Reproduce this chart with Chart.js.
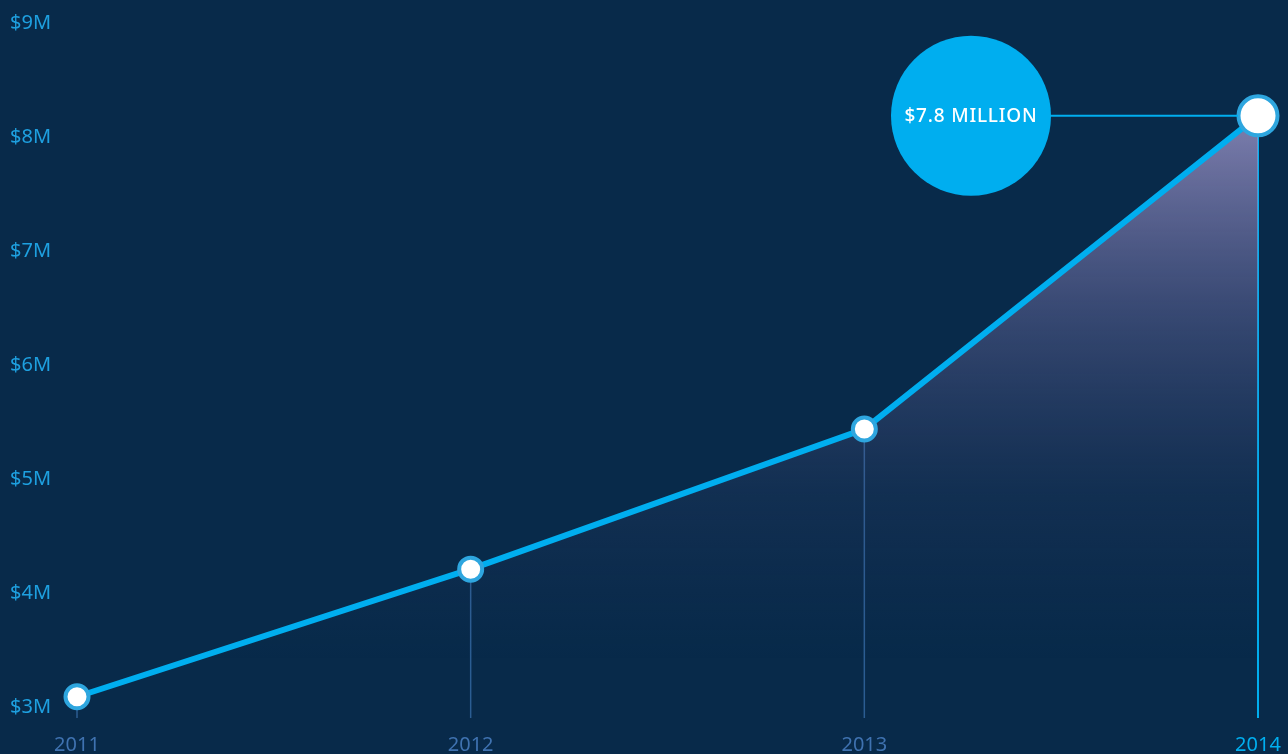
<!DOCTYPE html>
<html>
<head>
<meta charset="utf-8">
<script src="https://cdn.jsdelivr.net/npm/chart.js@4"></script>
<style>
  html, body { margin: 0; padding: 0; background: #082a4a; }
  #wrap { width: 1288px; height: 754px; position: relative; }
</style>
</head>
<body>
<div id="wrap"><canvas id="revenueChart"></canvas></div>
<script>
// data
const years = ["2011", "2012", "2013", "2014"];
const revenue = [3.09, 4.21, 5.44, 8.19];   // $M
const yMin = 3, yMax = 9;
const calloutText = "$7.8 MILLION";

const cyan = "#00aeef";
const navy = "#082a4a";
const labelFont = { family: "'Noto Sans', sans-serif", size: 20, weight: 400 };

// vertical lines under each point + the big callout bubble
const decorPlugin = {
    id: "decor",
    beforeDatasetsDraw(chart) {
        const ctx = chart.ctx;
        const meta = chart.getDatasetMeta(0);
        const bottom = chart.chartArea.bottom + 11;
        ctx.save();
        meta.data.forEach((pt, i) => {
            const last = i === meta.data.length - 1;
            ctx.beginPath();
            ctx.strokeStyle = last ? cyan : "#2b5d92";
            ctx.lineWidth = last ? 2 : 1.5;
            ctx.moveTo(pt.x, pt.y);
            ctx.lineTo(pt.x, bottom);
            ctx.stroke();
        });
        ctx.restore();
    },
    afterDatasetsDraw(chart) {
        const ctx = chart.ctx;
        const meta = chart.getDatasetMeta(0);
        const pt = meta.data[meta.data.length - 1];
        const r = 80;
        const cx = pt.x - 287;
        const cy = pt.y;
        ctx.save();
        // connector
        ctx.beginPath();
        ctx.strokeStyle = cyan;
        ctx.lineWidth = 2;
        ctx.moveTo(cx + r - 2, cy);
        ctx.lineTo(pt.x - 20, cy);
        ctx.stroke();
        // bubble
        ctx.beginPath();
        ctx.fillStyle = cyan;
        ctx.arc(cx, cy, r, 0, Math.PI * 2);
        ctx.fill();
        ctx.fillStyle = "#ffffff";
        ctx.font = "500 19px 'Noto Sans', sans-serif";
        ctx.letterSpacing = "0.8px";
        ctx.textAlign = "center";
        ctx.textBaseline = "middle";
        ctx.fillText(calloutText, cx, cy + 1);
        ctx.restore();
    }
};

function areaGradient(context) {
    const chart = context.chart;
    const area = chart.chartArea;
    if (!area) return "rgba(0,0,0,0)";
    const g = chart.ctx.createLinearGradient(0, 110, 0, 660);
    g.addColorStop(0, "rgba(150,145,195,0.85)");
    g.addColorStop(0.35, "rgba(120,115,170,0.45)");
    g.addColorStop(0.7, "rgba(80,80,130,0.14)");
    g.addColorStop(1, "rgba(60,60,110,0)");
    return g;
}

new Chart(document.getElementById("revenueChart"), {
    type: "line",
    data: {
        labels: years,
        datasets: [{
            data: revenue,
            borderColor: cyan,
            borderWidth: 6,
            tension: 0,
            fill: "start",
            backgroundColor: areaGradient,
            pointRadius: [11.5, 11.5, 11.5, 19.5],
            pointBorderWidth: 4,
            pointBorderColor: "#2ea6df",
            pointBackgroundColor: "#ffffff",
            clip: false
        }]
    },
    options: {
        responsive: true,
        maintainAspectRatio: false,
        animation: false,
        layout: { padding: { left: 10, right: 30, top: 20, bottom: 0 } },
        plugins: { legend: { display: false }, tooltip: { enabled: false } },
        scales: {
            x: {
                grid: { display: false },
                border: { display: false },
                ticks: {
                    padding: 18,
                    color: ["#3f72b0", "#3f72b0", "#3f72b0", cyan],
                    font: labelFont
                },
                afterFit(scale) {
                    scale.height = 47;
                    scale.paddingLeft = 0;
                    scale.paddingRight = 0;
                }
            },
            y: {
                min: yMin,
                max: yMax,
                grid: { display: false },
                border: { display: false },
                ticks: {
                    stepSize: 1,
                    crossAlign: "far",
                    color: "#1ea0e0",
                    font: labelFont,
                    callback: v => "$" + v + "M"
                },
                afterFit(scale) { scale.width = 67; }
            }
        }
    },
    plugins: [decorPlugin]
});
</script>
</body>
</html>
